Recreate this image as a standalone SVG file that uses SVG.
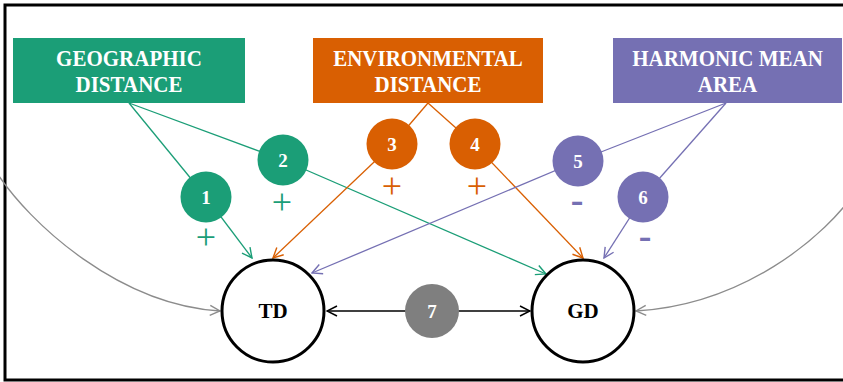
<svg xmlns="http://www.w3.org/2000/svg" width="843" height="382" viewBox="0 0 843 382">
<style>
.box-text{font-family:"Liberation Serif","Times New Roman",serif;font-weight:bold;font-size:21px;fill:#fff;text-anchor:middle}
.num{font-family:"Liberation Serif","Times New Roman",serif;font-weight:bold;font-size:19px;fill:#fff;text-anchor:middle;dominant-baseline:central}
.node-text{font-family:"Liberation Serif","Times New Roman",serif;font-weight:bold;font-size:21px;fill:#000;text-anchor:middle;dominant-baseline:central}
.plus{font-family:"Liberation Serif","Times New Roman",serif;font-size:36px;text-anchor:middle}
.minus{font-family:"Liberation Serif","Times New Roman",serif;font-weight:bold;font-size:38px;text-anchor:middle;fill:#7570B3}
.g{stroke:#1B9E77}.o{stroke:#D95F02}.p{stroke:#7570B3}
.ln{fill:none;stroke-width:1.3}
.big{fill:#fff;stroke:#000;stroke-width:3}
</style>
<defs>
<marker id="aG" viewBox="0 0 12 12" refX="11" refY="6" markerWidth="12" markerHeight="12" markerUnits="userSpaceOnUse" orient="auto"><path d="M1,1 L11,6 L1,11" fill="none" stroke="#1B9E77" stroke-width="1.4"/></marker>
<marker id="aO" viewBox="0 0 12 12" refX="11" refY="6" markerWidth="12" markerHeight="12" markerUnits="userSpaceOnUse" orient="auto"><path d="M1,1 L11,6 L1,11" fill="none" stroke="#D95F02" stroke-width="1.4"/></marker>
<marker id="aP" viewBox="0 0 12 12" refX="11" refY="6" markerWidth="12" markerHeight="12" markerUnits="userSpaceOnUse" orient="auto"><path d="M1,1 L11,6 L1,11" fill="none" stroke="#7570B3" stroke-width="1.4"/></marker>
<marker id="aY" viewBox="0 0 12 12" refX="11" refY="6" markerWidth="12" markerHeight="12" markerUnits="userSpaceOnUse" orient="auto"><path d="M1,1 L11,6 L1,11" fill="none" stroke="#8C8C8C" stroke-width="1.4"/></marker>
<marker id="aK" viewBox="0 0 12 12" refX="11" refY="6" markerWidth="12" markerHeight="12" markerUnits="userSpaceOnUse" orient="auto-start-reverse"><path d="M1,1 L11,6 L1,11" fill="none" stroke="#000" stroke-width="1.5"/></marker>
</defs>
<rect x="0" y="0" width="843" height="382" fill="#fff"/>
<rect id="frame" x="5" y="5" width="860" height="375" fill="none" stroke="#000" stroke-width="3"/>

<g id="connectors">
<path class="ln g" d="M129,103 L206,197"/>
<path class="ln g" d="M206,197 L252,258" marker-end="url(#aG)"/>
<path class="ln g" d="M129,103 L283,160"/>
<path class="ln g" d="M283,160 L546,274" marker-end="url(#aG)"/>
<path class="ln o" d="M428,103 L392,145"/>
<path class="ln o" d="M392,145 L273,258" marker-end="url(#aO)"/>
<path class="ln o" d="M428,103 L475,145"/>
<path class="ln o" d="M475,145 L583,258" marker-end="url(#aO)"/>
<path class="ln p" d="M726,103 L578,161"/>
<path class="ln p" d="M578,161 L312,273" marker-end="url(#aP)"/>
<path class="ln p" d="M726,103 L643,197"/>
<path class="ln p" d="M643,197 L604,258" marker-end="url(#aP)"/>
<path class="ln" stroke="#8C8C8C" d="M-5,170 C30,225 120,305 220,311" marker-end="url(#aY)"/>
<path class="ln" stroke="#8C8C8C" d="M860,185 C825,240 740,305 636,311" marker-end="url(#aY)"/>
<path fill="none" stroke="#000" stroke-width="1.5" d="M327,311 L530,311" marker-start="url(#aK)" marker-end="url(#aK)"/>
</g>

<g id="geographic-distance">
<rect x="13" y="38" width="232" height="65" fill="#1B9E77"/>
<text class="box-text" transform="translate(129,66) scale(1,1.12)">GEOGRAPHIC</text>
<text class="box-text" transform="translate(129,92) scale(1,1.12)">DISTANCE</text>
</g>
<g id="environmental-distance">
<rect x="313" y="38" width="230" height="65" fill="#D95F02"/>
<text class="box-text" transform="translate(428,66) scale(1,1.12)">ENVIRONMENTAL</text>
<text class="box-text" transform="translate(428,92) scale(1,1.12)">DISTANCE</text>
</g>
<g id="harmonic-mean-area">
<rect x="613" y="38" width="229" height="65" fill="#7570B3"/>
<text class="box-text" transform="translate(727.5,66) scale(1,1.12)">HARMONIC MEAN</text>
<text class="box-text" transform="translate(727.5,92) scale(1,1.12)">AREA</text>
</g>

<g id="c1"><circle cx="206" cy="197" r="25.5" fill="#1B9E77"/><text class="num" x="206" y="197">1</text><text class="plus" x="206" y="249" fill="#1B9E77">+</text></g>
<g id="c2"><circle cx="283" cy="160" r="25.5" fill="#1B9E77"/><text class="num" x="283" y="160">2</text><text class="plus" x="282" y="214" fill="#1B9E77">+</text></g>
<g id="c3"><circle cx="392" cy="144" r="25.5" fill="#D95F02"/><text class="num" x="392" y="144">3</text><text class="plus" x="392" y="198" fill="#D95F02">+</text></g>
<g id="c4"><circle cx="475" cy="144" r="25.5" fill="#D95F02"/><text class="num" x="475" y="144">4</text><text class="plus" x="477" y="198" fill="#D95F02">+</text></g>
<g id="c5"><circle cx="578" cy="161" r="25.5" fill="#7570B3"/><text class="num" x="578" y="161">5</text><text class="minus" x="577" y="212">-</text></g>
<g id="c6"><circle cx="643" cy="197" r="25.5" fill="#7570B3"/><text class="num" x="643" y="197">6</text><text class="minus" x="645" y="248">-</text></g>

<g id="TD"><circle class="big" cx="273" cy="311" r="51"/><text class="node-text" x="273" y="311">TD</text></g>
<g id="GD"><circle class="big" cx="583" cy="311" r="51"/><text class="node-text" x="583" y="311">GD</text></g>
<g id="c7"><circle cx="432" cy="311" r="27" fill="#7F7F7F"/><text class="num" x="432" y="311">7</text></g>
</svg>
